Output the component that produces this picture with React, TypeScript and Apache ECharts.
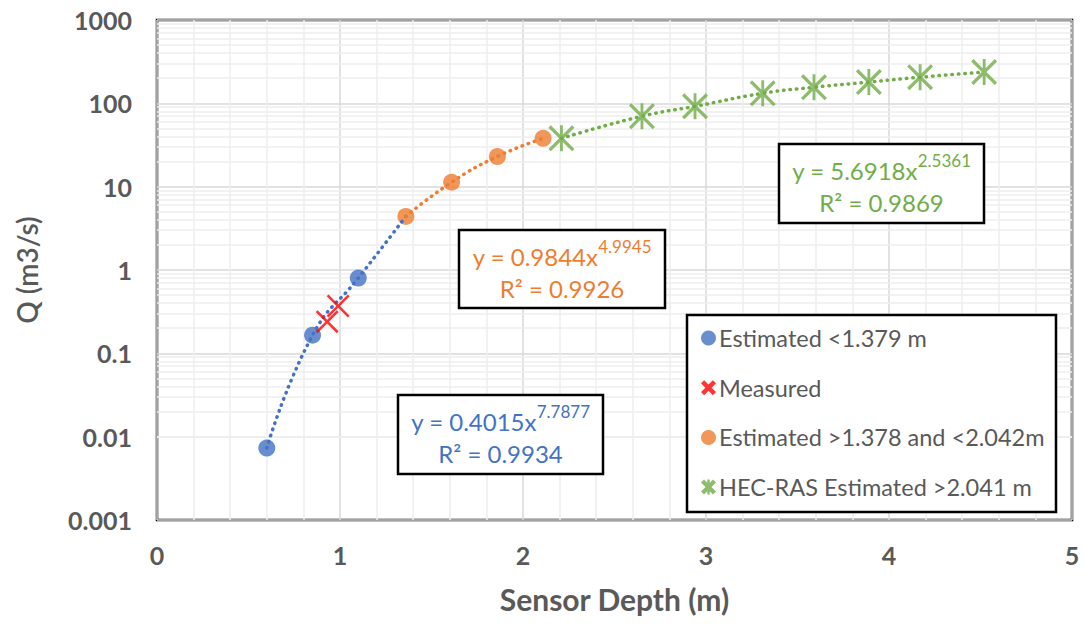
import React, { useEffect, useRef } from 'react';
import * as echarts from 'echarts';

// ---- data ----
const blueX = [0.6, 0.85, 1.1];
const blueY = [0.0073, 0.165, 0.8];
const measuredX = [0.93, 0.99];
const measuredY = [0.24, 0.37];
const orangeX = [1.36, 1.61, 1.86, 2.11];
const orangeY = [4.4, 11.3, 23, 38];
const greenX = [2.21, 2.65, 2.94, 3.31, 3.59, 3.89, 4.17, 4.52];
const greenY = [38, 70, 92, 132, 156, 180, 206, 237];

const xTicks = ['0', '1', '2', '3', '4', '5'];
const yTicks = ['0.001', '0.01', '0.1', '1', '10', '100', '1000'];
const yMinorMultipliers = [2, 3, 4, 5, 6, 7, 8, 9];
const yDecades = [-3, -2, -1, 0, 1, 2];

const seriesNames = [
  'Estimated <1.379 m',
  'Measured',
  'Estimated >1.378 and <2.042m',
  'HEC-RAS Estimated >2.041 m',
];
const eqBlue = ['y = 0.4015x', '7.7877', 'R\u00b2 = 0.9934'];
const eqOrange = ['y = 0.9844x', '4.9945', 'R\u00b2 = 0.9926'];
const eqGreen = ['y = 5.6918x', '2.5361', 'R\u00b2 = 0.9869'];

const BLUE = '#4472C4';
const ORANGE = '#ED7D31';
const GREEN = '#70AD47';
const RED = '#FF0000';
const GRAY = '#595959';
const FONT = 'Lato, "Liberation Sans", sans-serif';

function xShape(d: number, barHalf?: number) {
  let p = `M0 ${d} L${d} 0 L50 ${50 - d} L${100 - d} 0 L100 ${d} L${50 + d} 50 L100 ${100 - d} L${100 - d} 100 L50 ${50 + d} L${d} 100 L0 ${100 - d} L${50 - d} 50 Z`;
  if (barHalf) {
    p += ` M${50 - barHalf} 0 L${50 + barHalf} 0 L${50 + barHalf} 100 L${50 - barHalf} 100 Z`;
  }
  return 'path://' + p;
}

const zip = (xs: number[], ys: number[]) => xs.map((x, i) => [x, ys[i]]);

function eqBox(x: number, y: number, w: number, h: number, eq: string[], color: string) {
  const cx = x + w / 2;
  return [
    { type: 'rect', z: 5, shape: { x, y, width: w, height: h }, style: { fill: '#fff', stroke: '#000', lineWidth: 2.5 } },
    {
      type: 'text', z: 6, x: cx, y: y + 23,
      style: {
        text: `{b|${eq[0]}}{s|${eq[1]}}`,
        textAlign: 'center', textVerticalAlign: 'middle', align: 'center', verticalAlign: 'middle',
        rich: {
          b: { fontSize: 24, fontFamily: FONT, fill: color, lineHeight: 30, verticalAlign: 'bottom' },
          s: { fontSize: 17, fontFamily: FONT, fill: color, lineHeight: 20, verticalAlign: 'top' },
        },
      },
    },
    {
      type: 'text', z: 6, x: cx, y: y + 58,
      style: {
        text: eq[2], fill: color, font: `24px ${FONT}`,
        textAlign: 'center', textVerticalAlign: 'middle', align: 'center', verticalAlign: 'middle',
      },
    },
  ];
}

export default function App() {
  const ref = useRef<HTMLDivElement>(null);
  useEffect(() => {
    const chart = echarts.init(ref.current!, null, { renderer: 'svg' });
    const yMinor: number[] = [];
    yDecades.forEach((k) => yMinorMultipliers.forEach((m) => yMinor.push(m * Math.pow(10, k))));

    const trendStyle = (c: string) => ({ color: c, width: 3.5, type: [0.5, 6], cap: 'round' });

    const option: any = {
      animation: false,
      backgroundColor: '#fff',
      grid: {
        left: 157, right: 12, top: 20, bottom: 106,
        show: true, borderColor: '#000', borderWidth: 2.5, backgroundColor: '#fff',
      },
      xAxis: {
        type: 'value', min: 0, max: 5, interval: 1,
        axisLine: { show: false }, axisTick: { show: false },
        axisLabel: {
          margin: 22, fontSize: 25, fontWeight: 'bold', color: GRAY, fontFamily: FONT,
          formatter: (v: number) => xTicks[Math.round(v)] ?? '',
        },
        splitLine: { show: true, lineStyle: { color: '#d9d9d9', width: 1.5 } },
        minorTick: { show: false, splitNumber: 5 },
        minorSplitLine: { show: true, lineStyle: { color: '#eeeeee', width: 1.5 } },
        name: 'Sensor Depth (m)', nameLocation: 'middle', nameGap: 64,
        nameTextStyle: { fontSize: 30, fontWeight: 'bold', color: GRAY, fontFamily: FONT },
      },
      yAxis: {
        type: 'log', logBase: 10, min: 0.001, max: 1000, splitNumber: 6,
        axisLine: { show: false }, axisTick: { show: false },
        axisLabel: {
          margin: 25, fontSize: 25, fontWeight: 'bold', color: GRAY, fontFamily: FONT,
          formatter: (v: number) => yTicks[Math.round(Math.log10(v)) + 3] ?? '',
        },
        splitLine: { show: true, lineStyle: { color: '#d9d9d9', width: 1.5 } },
        name: 'Q (m3/s)', nameLocation: 'middle', nameGap: 116,
        nameTextStyle: { fontSize: 28, fontWeight: 600, color: GRAY, fontFamily: FONT },
      },
      legend: {
        data: [
          { name: seriesNames[0], icon: 'circle' },
          { name: seriesNames[1], icon: xShape(21) },
          { name: seriesNames[2], icon: 'circle' },
          { name: seriesNames[3], icon: xShape(20, 8) },
        ],
        orient: 'vertical', left: 701, top: 326, z: 10,
        itemWidth: 15, itemHeight: 15, itemGap: 25.7, padding: 0,
        textStyle: { fontSize: 23.5, color: GRAY, fontFamily: FONT, lineHeight: 24, padding: [0, 0, 0, -2] },
        selectedMode: false,
      },
      graphic: [
        { type: 'rect', z: 5, shape: { x: 687, y: 315, width: 369, height: 197 }, style: { fill: '#fff', stroke: '#000', lineWidth: 2.5 } },
        ...eqBox(459, 230, 206, 78, eqOrange, ORANGE),
        ...eqBox(779, 144, 205, 79, eqGreen, GREEN),
        ...eqBox(398, 395, 205, 79, eqBlue, BLUE),
      ],
      series: [
        {
          name: 'minorgrid', type: 'scatter', data: [], z: 0, silent: true,
          markLine: {
            silent: true, z: 0, symbol: ['none', 'none'], label: { show: false },
            lineStyle: { color: '#eeeeee', width: 1.5, type: 'solid' },
            emphasis: { disabled: true },
            data: yMinor.map((v) => ({ yAxis: v })),
          },
        },
        {
          name: 'trendBlue', type: 'line', smooth: true, symbol: 'none', z: 4, silent: true,
          data: [...zip(blueX, blueY), [orangeX[0], orangeY[0]]], lineStyle: trendStyle(BLUE),
        },
        {
          name: 'trendOrange', type: 'line', smooth: true, symbol: 'none', z: 4, silent: true,
          data: zip(orangeX, orangeY), lineStyle: trendStyle(ORANGE),
        },
        {
          name: 'trendGreen', type: 'line', smooth: true, symbol: 'none', z: 4, silent: true,
          data: zip(greenX, greenY), lineStyle: trendStyle(GREEN),
        },
        {
          name: seriesNames[0], type: 'scatter', z: 3, symbol: 'circle', symbolSize: 17,
          itemStyle: { color: BLUE }, data: zip(blueX, blueY),
        },
        {
          name: seriesNames[1], type: 'scatter', z: 5, symbol: xShape(8), symbolSize: 23,
          itemStyle: { color: RED }, data: zip(measuredX, measuredY),
        },
        {
          name: seriesNames[2], type: 'scatter', z: 3, symbol: 'circle', symbolSize: 17,
          itemStyle: { color: ORANGE }, data: zip(orangeX, orangeY),
        },
        {
          name: seriesNames[3], type: 'scatter', z: 3, symbol: xShape(9, 5.5), symbolSize: 26,
          itemStyle: { color: GREEN }, data: zip(greenX, greenY),
        },
      ],
    };
    chart.setOption(option);
    return () => chart.dispose();
  }, []);
  return <div ref={ref} style={{ position: 'fixed', left: 0, top: 0, width: 1084, height: 626 }} />;
}
